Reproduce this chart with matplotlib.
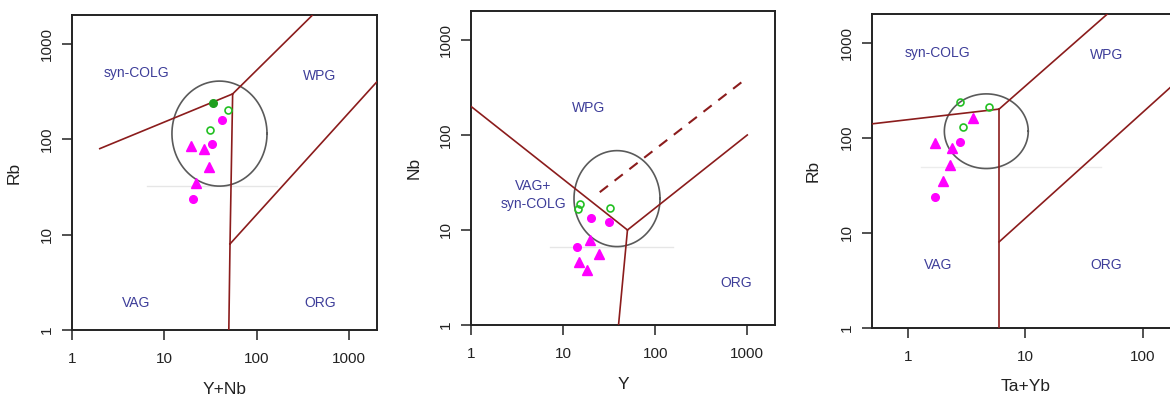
import numpy as np
import matplotlib
matplotlib.use("Agg")
from matplotlib import pyplot as plt

plt.rcParams['font.family'] = ['Liberation Sans', 'DejaVu Sans']

LINE = '#8b1c1c'
TXT = '#3d3d99'
MAG = '#ff00ff'
GRN = '#22c022'

# ---- panel 1: Rb vs Y+Nb ----
p1_lines = [
    ([2, 55], [80, 300]),
    ([55, 400], [300, 2000]),
    ([55, 51.5], [300, 8]),
    ([51.5, 50], [8, 1]),
    ([51.5, 2000], [8, 400]),
]
p1_mag_circ_x = [42.5, 32.6, 20.6]
p1_mag_circ_y = [160, 89.5, 23.7]
p1_mag_tri_x = [19.3, 27.2, 30.5, 21.9]
p1_mag_tri_y = [85.9, 78.7, 51.7, 34.6]
p1_grn_open_x = [49.4, 31.3]
p1_grn_open_y = [203, 125.6]
p1_grn_fill_x = [34]
p1_grn_fill_y = [239]
p1_ellipse = (39.6, 115, 0.515, 0.551)   # centre x, centre y, log radii
p1_faint = ([6.5, 166], [32.4, 32.4])
p1_labels = [('syn-COLG', 5, 494), ('WPG', 485, 463), ('VAG', 5, 1.9), ('ORG', 485, 1.9)]

# ---- panel 2: Nb vs Y ----
p2_lines = [
    ([1, 50], [200, 10]),
    ([50, 1000], [10, 100]),
    ([50, 40], [10, 1]),
]
p2_dashed = ([25, 1000], [25, 400])
p2_mag_circ_x = [19.9, 31.3, 14.3]
p2_mag_circ_y = [13.3, 12.2, 6.6]
p2_mag_tri_x = [19.6, 24.7, 15.0, 18.3]
p2_mag_tri_y = [7.85, 5.55, 4.64, 3.79]
p2_grn_open_x = [15.3, 14.6, 32.3]
p2_grn_open_y = [18.9, 16.5, 16.9]
p2_ellipse = (38.5, 21.4, 0.467, 0.505)
p2_faint = ([7.2, 156], [6.67, 6.67])
p2_labels = [('WPG', 19, 194), ('VAG+', 4.75, 29.3), ('syn-COLG', 4.75, 18.8), ('ORG', 767, 2.8)]

# ---- panel 3: Rb vs Ta+Yb ----
p3_lines = [
    ([0.5, 6], [140, 200]),
    ([6, 50], [200, 2000]),
    ([6, 6], [200, 1]),
    ([6, 200], [8, 400]),
]
p3_mag_circ_x = [2.79, 1.70]
p3_mag_circ_y = [90.8, 23.6]
p3_mag_tri_x = [3.57, 1.71, 2.37, 2.31, 2.0]
p3_mag_tri_y = [160, 87.3, 77.3, 51.6, 35]
p3_grn_open_x = [2.79, 4.89, 2.96]
p3_grn_open_y = [236, 210, 129]
p3_ellipse = (4.67, 117, 0.357, 0.393)
p3_faint = ([1.3, 44], [49, 49])
p3_labels = [('syn-COLG', 1.8, 773), ('WPG', 49, 743), ('VAG', 1.8, 4.57), ('ORG', 49, 4.57)]

W, H = 1170, 403
fig = plt.figure(figsize=(W / 100, H / 100), dpi=100)


def make_ax(left, right, top, bottom):
    return fig.add_axes([left / W, 1 - bottom / H, (right - left) / W, (bottom - top) / H])


def ellipse(ax, cx, cy, rx, ry):
    t = np.linspace(0, 2 * np.pi, 200)
    ax.plot(10 ** (np.log10(cx) + rx * np.cos(t)), 10 ** (np.log10(cy) + ry * np.sin(t)),
            color='#5a5a5a', lw=1.2, zorder=2)


def setup(ax, xlim, xticks, xlabel, ylabel, ylab_off, xlab_off):
    ax.set_xscale('log')
    ax.set_yscale('log')
    ax.set_xlim(*xlim)
    ax.set_ylim(1, 2000)
    ax.minorticks_off()
    ax.set_xticks(xticks)
    ax.set_xticklabels([str(t) for t in xticks])
    yt = [1, 10, 100, 1000]
    ax.set_yticks(yt)
    ax.set_yticklabels([str(t) for t in yt], rotation=90, va='center')
    ax.tick_params(direction='out', length=7, width=1.1, color='#222222',
                   labelsize=11, labelcolor='#222222')
    ax.tick_params(axis='x', pad=9)
    ax.tick_params(axis='y', pad=6)
    for s in ax.spines.values():
        s.set_linewidth(1.4)
        s.set_color('#222222')
    ax.set_xlabel(xlabel, fontsize=12.5, color='#222222')
    ax.set_ylabel(ylabel, fontsize=12.5, color='#222222')
    ax.xaxis.set_label_coords(0.5, xlab_off)
    ax.yaxis.set_label_coords(ylab_off, 0.5)


def points(ax, cx, cy, tx, ty, gx, gy, fx=None, fy=None):
    ax.plot(cx, cy, 'o', color=MAG, ms=5.5, mec=MAG, zorder=4)
    ax.plot(tx, ty, '^', color=MAG, ms=6.5, mec=MAG, zorder=4)
    ax.plot(gx, gy, 'o', mfc='none', mec=GRN, mew=1.2, ms=5, zorder=4)
    if fx is not None:
        ax.plot(fx, fy, 'o', color='#1f9f1f', ms=5.5, zorder=4)


def labels(ax, items):
    for txt, x, y in items:
        ax.text(x, y, txt, color=TXT, fontsize=10, ha='center', va='center')


# panel 1
ax1 = make_ax(72, 376.7, 15.4, 330)
setup(ax1, (1, 2000), [1, 10, 100, 1000], 'Y+Nb', 'Rb', -0.164, -0.165)
ax1.plot(*p1_faint, color='#e6e6e6', lw=1, zorder=1)
for xs, ys in p1_lines:
    ax1.plot(xs, ys, color=LINE, lw=1.2, zorder=3)
ellipse(ax1, *p1_ellipse)
points(ax1, p1_mag_circ_x, p1_mag_circ_y, p1_mag_tri_x, p1_mag_tri_y,
       p1_grn_open_x, p1_grn_open_y, p1_grn_fill_x, p1_grn_fill_y)
labels(ax1, p1_labels)

# panel 2
ax2 = make_ax(471, 775, 11.4, 325)
setup(ax2, (1, 2000), [1, 10, 100, 1000], 'Y', 'Nb', -0.162, -0.165)
ax2.plot(*p2_faint, color='#e6e6e6', lw=1, zorder=1)
for xs, ys in p2_lines:
    ax2.plot(xs, ys, color=LINE, lw=1.2, zorder=3)
ax2.plot(*p2_dashed, color=LINE, lw=1.5, ls=(0, (5, 4)), zorder=3)
ellipse(ax2, *p2_ellipse)
points(ax2, p2_mag_circ_x, p2_mag_circ_y, p2_mag_tri_x, p2_mag_tri_y,
       p2_grn_open_x, p2_grn_open_y)
labels(ax2, p2_labels)

# panel 3 (right border runs off the image)
ax3 = make_ax(872.3, 1178, 14.1, 327.7)
setup(ax3, (0.5, 200), [1, 10, 100], 'Ta+Yb', 'Rb', -0.17, -0.165)
ax3.plot(*p3_faint, color='#ececec', lw=1, zorder=1)
for xs, ys in p3_lines:
    ax3.plot(xs, ys, color=LINE, lw=1.2, zorder=3)
ellipse(ax3, *p3_ellipse)
points(ax3, p3_mag_circ_x, p3_mag_circ_y, p3_mag_tri_x, p3_mag_tri_y,
       p3_grn_open_x, p3_grn_open_y)
labels(ax3, p3_labels)

fig.savefig('out.png', dpi=100)
